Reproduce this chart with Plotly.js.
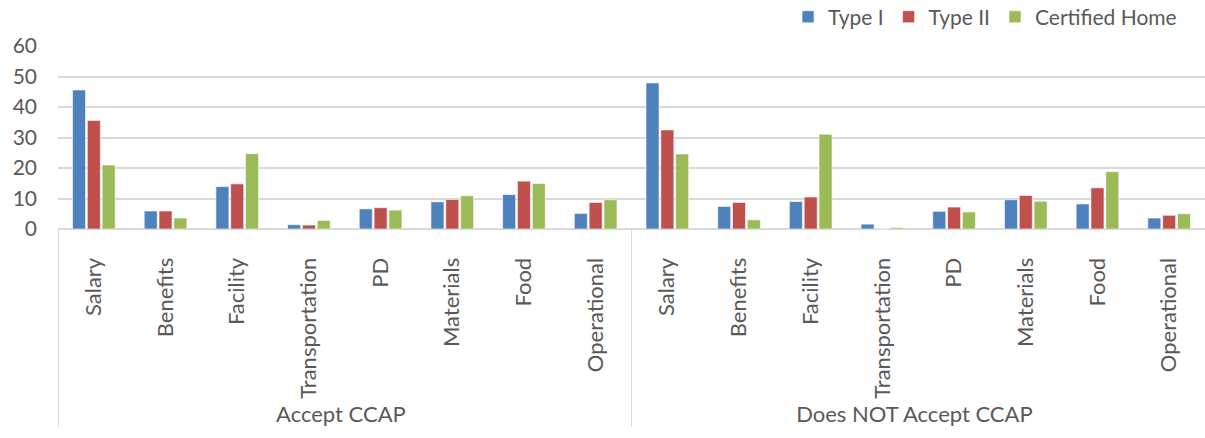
<!DOCTYPE html>
<html>
<head>
<meta charset="utf-8">
<script src="https://cdn.plot.ly/plotly-3.0.1.min.js"></script>
<style>html,body{margin:0;padding:0;background:#fff;}#chart{width:1205px;height:438px;}</style>
</head>
<body>
<div id="chart"></div>
<script>
var groups = ["Accept CCAP", "Does NOT Accept CCAP"];
var items = ["Salary", "Benefits", "Facility", "Transportation", "PD", "Materials", "Food", "Operational"];
var seriesNames = ["Type I", "Type II", "Certified Home"];
var typeI_accept = [45.6, 5.9, 13.9, 1.4, 6.6, 8.9, 11.3, 5.1];
var typeII_accept = [35.6, 5.9, 14.8, 1.3, 7.0, 9.7, 15.7, 8.7];
var cert_accept = [21.0, 3.6, 24.7, 2.8, 6.2, 10.9, 14.9, 9.6];
var typeI_not = [47.9, 7.4, 9.0, 1.6, 5.8, 9.6, 8.2, 3.6];
var typeII_not = [32.5, 8.7, 10.5, 0, 7.2, 11.0, 13.5, 4.5];
var cert_not = [24.6, 3.0, 31.1, 0.5, 5.6, 9.1, 18.8, 5.0];
var yTicks = [0, 10, 20, 30, 40, 50, 60];
var colors = ["#4F81BD", "#C0504D", "#9BBB59"];

var outer = [], inner = [];
groups.forEach(function (g) { items.forEach(function (it) { outer.push(g); inner.push(it); }); });
var vals = [typeI_accept.concat(typeI_not), typeII_accept.concat(typeII_not), cert_accept.concat(cert_not)];

var data = seriesNames.map(function (n, i) {
  return {
    type: "bar", name: n, x: [outer, inner], y: vals[i],
    marker: {color: colors[i], line: {color: "rgba(255,255,255,0.6)", width: 1}},
    hoverinfo: "y+name"
  };
});

var layout = {
  width: 1205, height: 438,
  margin: {l: 58, r: 0, t: 46, b: 209, autoexpand: false},
  paper_bgcolor: "#fff", plot_bgcolor: "#fff",
  font: {family: "Lato, 'Open Sans', sans-serif", color: "#595959", size: 21},
  barmode: "group", bargap: 0.38, bargroupgap: 0.12,
  showlegend: true,
  legend: {orientation: "h", x: 0.98, xanchor: "right", y: 1.158, yanchor: "middle",
           font: {size: 21, color: "#595959"}, traceorder: "normal", itemwidth: 30},
  xaxis: {type: "multicategory", tickangle: -90, showgrid: false, showline: true,
          linecolor: "#D9D9D9", linewidth: 1, showdividers: true, dividercolor: "#D9D9D9",
          dividerwidth: 1, ticks: "", ticklabelstandoff: 19, tickfont: {size: 22, color: "#595959"}},
  yaxis: {range: [0, 60], tickvals: yTicks, showgrid: true, gridcolor: "#D9D9D9", gridwidth: 2,
          zeroline: true, zerolinecolor: "#D9D9D9", zerolinewidth: 2, showline: false,
          ticks: "", ticklabelstandoff: 20, tickfont: {size: 21, color: "#595959"}, fixedrange: true}
};

Plotly.newPlot("chart", data, layout, {displayModeBar: false, staticPlot: true});
</script>
</body>
</html>
